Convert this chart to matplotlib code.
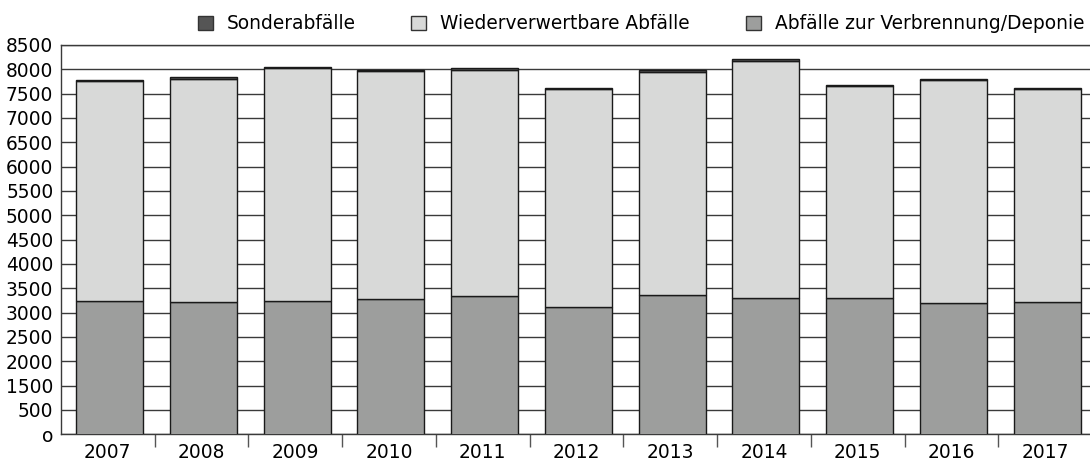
import matplotlib
matplotlib.use("Agg")
import matplotlib.pyplot as plt
import numpy as np
from matplotlib.patches import Patch

years = ["2007", "2008", "2009", "2010", "2011", "2012",
         "2013", "2014", "2015", "2016", "2017"]

# Abfälle zur Verbrennung/Deponie
verbrennung = [3245, 3225, 3231, 3271, 3336, 3107, 3356, 3304, 3296, 3205, 3225]
# Wiederverwertbare Abfälle
wiederverwertbar = [4517, 4586, 4790, 4688, 4654, 4492, 4588, 4876, 4360, 4574, 4372]
# Sonderabfälle
sonder = [20, 25, 20, 35, 30, 25, 50, 25, 30, 30, 20]

ytick_values = list(range(500, 8501, 500))
ytick_labels = ["o", "500"] + [str(v) for v in range(1500, 8501, 500)]

labels = ["Sonderabfälle", "Wiederverwertbare Abfälle", "Abfälle zur Verbrennung/Deponie"]
colors = ["#555555", "#d8d9d8", "#9d9e9d"]

plt.rcParams["font.family"] = "DejaVu Sans"
plt.rcParams["font.size"] = 13.4

fig = plt.figure(figsize=(10.9, 4.61), dpi=100)
ax = fig.add_axes([61 / 1090, (461 - 434.3) / 461, 1031 / 1090, 389.3 / 461])

x = np.arange(len(years)) + 0.02
w = 0.715
verb = np.array(verbrennung)
wied = np.array(wiederverwertbar)
sond = np.array(sonder)

ax.bar(x, verb, w, color=colors[2], edgecolor="#1a1a1a", linewidth=1, zorder=3)
ax.bar(x, wied, w, bottom=verb, color=colors[1], edgecolor="#1a1a1a", linewidth=1, zorder=3)
ax.bar(x, sond, w, bottom=verb + wied, color=colors[0], edgecolor="#1a1a1a", linewidth=1, zorder=3)

ax.set_xlim(-0.5, len(years) - 0.5)
ax.set_ylim(500, 8500)
ax.set_yticks(ytick_values)
ax.set_yticklabels(ytick_labels)
ax.yaxis.grid(True, color="#3a3a3a", linewidth=1)
ax.set_axisbelow(True)
ax.tick_params(axis="y", length=0, pad=5.5)

ax.set_xticks(np.arange(len(years)))
ax.set_xticklabels(years)
ax.tick_params(axis="x", which="major", length=0, pad=6)
ax.set_xticks(np.arange(0.5, len(years) - 0.5), minor=True)
ax.tick_params(axis="x", which="minor", length=9, color="#555555", width=1)

ax.spines["right"].set_visible(False)
for side in ["left", "bottom", "top"]:
    ax.spines[side].set_color("#3a3a3a")
    ax.spines[side].set_linewidth(1)

handles = [Patch(facecolor=c, edgecolor="#333333", linewidth=1) for c in colors]
fig.legend(handles, labels, loc="center", bbox_to_anchor=(0.588, 0.948), ncol=3,
           frameon=False, handlelength=0.8, handleheight=0.8,
           handletextpad=0.75, columnspacing=3.0, borderaxespad=0, borderpad=0)

fig.savefig("out.png", dpi=100)
